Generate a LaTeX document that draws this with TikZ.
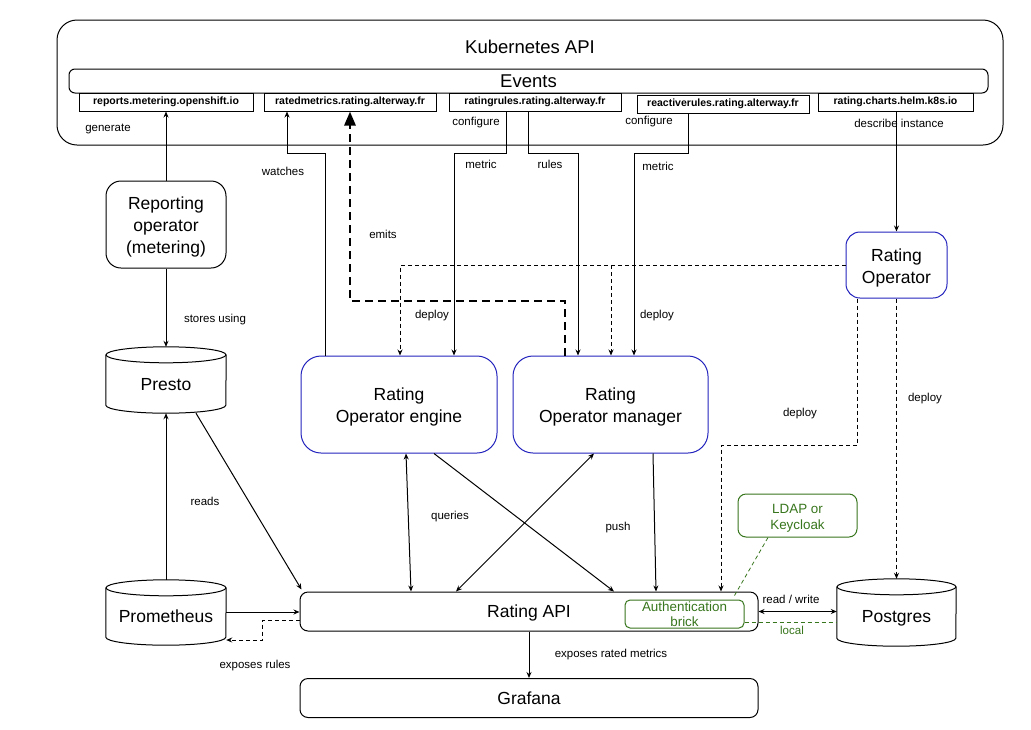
\documentclass[tikz,border=0pt]{standalone}
\usepackage{fontspec}
\setmainfont{Liberation Sans}
\usetikzlibrary{arrows.meta}
\definecolor{opblue}{RGB}{35,35,190}
\definecolor{authgreen}{RGB}{56,118,29}
\newcommand{\tstrut}[1]{\rule{0pt}{#1}}
\begin{document}
\begin{tikzpicture}[x=1pt,y=-1pt,
  ln/.style={line width=1pt,draw=black},
  bigtxt/.style={font=\fontsize{17.5}{22}\selectfont},
  box/.style={draw,line width=1pt,rounded corners=#1,inner sep=0pt,align=center,bigtxt},
  box/.default=8pt,
  opbox/.style={box=#1,draw=opblue},
  opbox/.default=16pt,
  sline/.style={text height=12.8pt,text depth=0pt},
  cylnode/.style={inner sep=0pt,align=center,bigtxt,sline},
  crd/.style={draw,line width=1pt,inner sep=0pt,minimum height=18pt,font=\bfseries\fontsize{10.5}{12}\selectfont},
  lbl/.style={inner sep=0pt,font=\fontsize{11.5}{13}\selectfont},
  glbl/.style={lbl,text=authgreen},
  arr/.style={line width=1pt,-{Stealth[length=6pt,width=5pt]}},
  darr/.style={line width=1pt,{Stealth[length=6pt,width=5pt]}-{Stealth[length=6pt,width=5pt]}},
  dsh/.style={arr,dash pattern=on 4pt off 3pt},
  emit/.style={line width=2.7pt,dash pattern=on 8pt off 5pt,-{Triangle[length=14pt,width=11pt]}},
  gdash/.style={draw=authgreen,line width=0.8pt,dash pattern=on 4pt off 3pt}
]
\fill[white] (0,0) rectangle (1031,729);
\useasboundingbox (0,0) rectangle (1031,729);

% Kubernetes API frame
\node[box=20pt,minimum width=946pt,minimum height=125pt] (kapi) at (530,82.5) {};
\node[bigtxt,font=\fontsize{18.5}{22}\selectfont] (kapititle) at (530,47) {Kubernetes API};
\node[box=6pt,minimum width=919pt,minimum height=24pt,font=\fontsize{18.5}{22}\selectfont] (events) at (528.5,81) {Events};

% CRDs
\node[crd,minimum width=174pt] (crd1) at (166,102) {reports.metering.openshift.io};
\node[crd,minimum width=172pt] (crd2) at (350,102) {ratedmetrics.rating.alterway.fr};
\node[crd,minimum width=172pt] (crd3) at (535,102) {ratingrules.rating.alterway.fr};
\node[crd,minimum width=172pt] (crd4) at (723,104) {reactiverules.rating.alterway.fr};
\node[crd,minimum width=155pt] (crd5) at (895.5,102) {rating.charts.helm.k8s.io};

% main nodes
\node[box=15pt,minimum width=120pt,minimum height=87pt] (reporting) at (166,224.5) {\tstrut{17.8pt}Reporting\\operator\\(metering)};
\node[opbox=20pt,minimum width=196pt,minimum height=97pt] (engine) at (399,404.5) {\tstrut{18.6pt}Rating\\Operator engine};
\node[opbox=20pt,minimum width=195pt,minimum height=97pt] (manager) at (610.5,404.5) {\tstrut{18.6pt}Rating\\Operator manager};
\node[opbox=14pt,minimum width=101pt,minimum height=66pt] (ratingop) at (896.5,265) {\tstrut{18.3pt}Rating\\Operator};
\node[box=8pt,sline,minimum width=458pt,minimum height=39pt] (ratingapi) at (529,611.5) {Rating API};
\node[box=8pt,sline,minimum width=458pt,minimum height=39pt] (grafana) at (529,698) {Grafana};
\node[box=5pt,draw=authgreen,text=authgreen,minimum width=119pt,minimum height=28pt,font=\fontsize{13.4}{15.5}\selectfont] (auth) at (684.5,614) {Authentication\\brick};
\node[box=8pt,draw=authgreen,text=authgreen,minimum width=119pt,minimum height=43pt,font=\fontsize{13.4}{16}\selectfont] (ldap) at (797.5,515.5) {\tstrut{13.8pt}LDAP or\\Keycloak};

% cylinders
\node[cylnode,minimum width=120pt,minimum height=58pt] (presto) at (166,384) {Presto};
\node[cylnode,minimum width=120pt,minimum height=57pt] (prometheus) at (166,616.5) {Prometheus};
\node[cylnode,minimum width=119pt,minimum height=59pt] (postgres) at (896.5,616.5) {Postgres};
\foreach \c/\r in {presto/60pt,prometheus/60pt,postgres/59.5pt}{
  \draw[ln] (\c.north west) -- ([yshift=8pt]\c.south west)
     arc[start angle=180,end angle=360,x radius=\r,y radius=8pt] -- (\c.north east);
  \draw[ln] (\c.north) ellipse[x radius=\r,y radius=8pt];
}

% left column
\draw[arr] (reporting.north) -- (crd1.south);
\draw[arr] (reporting.south) -- ([yshift=8pt]presto.north);
\draw[arr] ([yshift=8pt]prometheus.north) -- (presto.south);
\draw[arr] ([xshift=30pt]presto.south) -- ([xshift=2pt,yshift=2pt]ratingapi.north west);
\draw[arr] ([yshift=4.5pt]prometheus.east) -- ([yshift=4.5pt]prometheus.east -| ratingapi.west);
\coordinate (erA) at (262,620); \coordinate (erB) at (262,640);
\draw[dsh] (ratingapi.west |- erA) -- (erA) -- (erB) -- (erB -| prometheus.east);
\draw[arr] (ratingapi.south) -- (grafana.north);

% watches
\coordinate (wA) at (325,153); \coordinate (wB) at (287,153);
\draw[arr] (engine.north -| wA) -- (wA) -- (wB) -- (crd2.south -| wB);
% emits
\coordinate (eA) at (565,301); \coordinate (eB) at (350,301);
\draw[emit] (manager.north -| eA) -- (eA) -- (eB) -- (crd2.south -| eB);
% metric / rules
\coordinate (m1A) at (506,153); \coordinate (m1B) at (454,153);
\draw[arr] (crd3.south -| m1A) -- (m1A) -- (m1B) -- (engine.north -| m1B);
\coordinate (rA) at (528,153); \coordinate (rB) at (578,153);
\draw[arr] (crd3.south -| rA) -- (rA) -- (rB) -- (manager.north -| rB);
\coordinate (m2A) at (688,153); \coordinate (m2B) at (634,153);
\draw[arr] (crd4.south -| m2A) -- (m2A) -- (m2B) -- (manager.north -| m2B);
% deploy from rating operator
\coordinate (dA) at (400,265); \coordinate (dB) at (611,265);
\draw[dsh] (ratingop.west) -- (dA) -- (engine.north -| dA);
\draw[dsh] (dB) -- (manager.north -| dB);
\coordinate (d2A) at (857,445); \coordinate (d2B) at (721,445);
\draw[dsh] (ratingop.south -| d2A) -- (d2A) -- (d2B) -- (ratingapi.north -| d2B);
\draw[dsh] (ratingop.south -| postgres.north) -- ([yshift=8pt]postgres.north);
\draw[arr] (crd5.south -| ratingop.north) -- (ratingop.north);

% engine / manager to api
\draw[darr] ([xshift=7pt]engine.south) -- ([xshift=-118pt]ratingapi.north);
\draw[arr] ([xshift=35pt]engine.south) -- ([xshift=85pt]ratingapi.north);
\draw[darr] ([xshift=-73pt]ratingapi.north) -- ([xshift=-16.5pt]manager.south);
\draw[arr] ([xshift=42.5pt]manager.south) -- ([xshift=127pt]ratingapi.north);

% postgres links
\draw[darr] (ratingapi.east) -- (ratingapi.east -| postgres.west);
\draw[gdash] ([yshift=-8pt]auth.east) -- ([yshift=-8pt]auth.east -| postgres.west);
\draw[gdash] ([xshift=-29.5pt]ldap.south) -- ([xshift=50pt,yshift=4pt]auth.north);

% labels
\node[lbl] (lgen) at (108,129) {generate};
\node[lbl] (lconf1) at (476,123) {configure};
\node[lbl] (lconf2) at (649,122) {configure};
\node[lbl] (ldesc) at (899,123) {describe instance};
\node[lbl] (lwatch) at (283,171) {watches};
\node[lbl] (lmet1) at (481,164) {metric};
\node[lbl] (lrules) at (550,164) {rules};
\node[lbl] (lmet2) at (658,166) {metric};
\node[lbl] (lemits) at (383,234) {emits};
\node[lbl] (ldep1) at (432,316) {deploy};
\node[lbl] (ldep2) at (657,316) {deploy};
\node[lbl] (lstore) at (215,320) {stores using};
\node[lbl] (lreads) at (205,501) {reads};
\node[lbl] (ldep3) at (800,414) {deploy};
\node[lbl] (ldep4) at (925,399) {deploy};
\node[lbl] (lqueries) at (450,517) {queries};
\node[lbl] (lpush) at (618,528) {push};
\node[lbl] (lexprules) at (255,666) {exposes rules};
\node[lbl] (lexpmet) at (611,655) {exposes rated metrics};
\node[lbl] (lrw) at (791,599) {read / write};
\node[glbl] (llocal) at (792,630) {local};
\end{tikzpicture}
\end{document}
